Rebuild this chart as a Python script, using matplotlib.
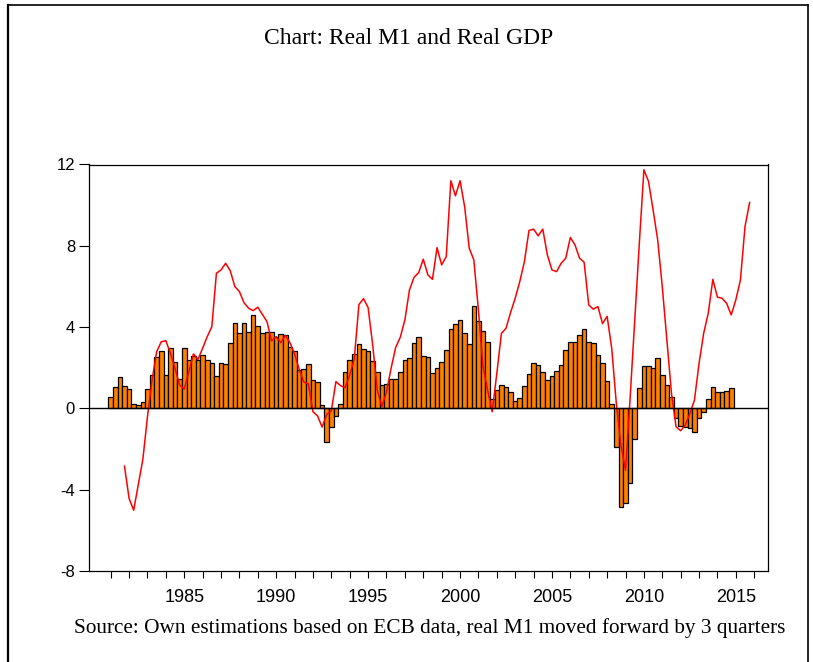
import numpy as np
import matplotlib.pyplot as plt
from matplotlib.lines import Line2D

# Real GDP, year-on-year growth in %, quarterly 1981Q1 - 2014Q4
gdp_growth = [
    0.54, 1.03, 1.53, 1.10, 0.94, 0.21, 0.15, 0.33, 0.97, 1.63,
    2.54, 2.81, 1.63, 2.96, 2.27, 1.46, 2.97, 2.36, 2.58, 2.38,
    2.64, 2.40, 2.22, 1.59, 2.22, 2.17, 3.22, 4.22, 3.71, 4.22,
    3.74, 4.61, 4.07, 3.71, 3.74, 3.78, 3.50, 3.66, 3.60, 3.00,
    2.81, 1.89, 1.94, 2.17, 1.40, 1.31, 0.18, -1.66, -0.92, -0.39,
    0.20, 1.79, 2.36, 2.68, 3.19, 2.92, 2.81, 2.35, 1.77, 1.15,
    1.21, 1.43, 1.43, 1.77, 2.38, 2.46, 3.20, 3.50, 2.58, 2.51,
    1.72, 1.99, 2.27, 2.86, 3.89, 4.14, 4.37, 3.71, 3.17, 5.06,
    4.29, 3.81, 3.25, 0.46, 0.90, 1.13, 1.07, 0.80, 0.34, 0.53,
    1.10, 1.71, 2.22, 2.12, 1.77, 1.38, 1.59, 1.82, 2.13, 2.87,
    3.25, 3.27, 3.63, 3.91, 3.27, 3.23, 2.61, 2.21, 1.37, 0.23,
    -1.90, -4.84, -4.65, -3.69, -1.51, 0.99, 2.10, 2.07, 1.97, 2.50,
    1.63, 1.13, 0.56, -0.49, -0.85, -0.90, -0.97, -1.18, -0.49, -0.16,
    0.44, 1.05, 0.79, 0.79, 0.87, 1.02,
]

# Real M1, year-on-year growth in %, shifted 3 quarters ahead: 1981Q4 - 2015Q4
m1_growth = [
    -2.84, -4.43, -5.01, -3.75, -2.50, -0.41, 1.40, 2.79, 3.28, 3.33,
    2.71, 1.97, 1.15, 0.95, 1.80, 2.68, 2.41, 2.96, 3.53, 4.02,
    6.65, 6.81, 7.14, 6.78, 6.00, 5.75, 5.20, 4.93, 4.81, 4.98,
    4.63, 4.27, 3.32, 3.53, 3.23, 3.60, 3.23, 2.68, 1.93, 1.30,
    1.20, -0.16, -0.37, -0.92, -0.29, -0.12, 1.32, 1.12, 1.02, 1.64,
    2.46, 5.11, 5.40, 4.96, 3.12, 0.90, 0.08, 0.82, 1.97, 3.00,
    3.50, 4.35, 5.83, 6.45, 6.68, 7.34, 6.57, 6.35, 7.91, 7.06,
    7.47, 11.20, 10.46, 11.20, 9.93, 7.88, 7.31, 4.84, 2.05, 0.90,
    -0.16, 1.72, 3.69, 3.94, 4.72, 5.42, 6.24, 7.22, 8.75, 8.82,
    8.49, 8.82, 7.55, 6.81, 6.73, 7.14, 7.39, 8.41, 8.05, 7.39,
    7.19, 5.09, 4.88, 5.01, 4.17, 4.53, 2.96, 0.25, -1.81, -3.04,
    0.50, 4.30, 8.10, 11.74, 11.17, 9.77, 8.29, 5.99, 3.37, 0.74,
    -0.90, -1.10, -0.82, -0.25, 0.41, 2.22, 3.69, 4.68, 6.35, 5.47,
    5.42, 5.17, 4.60, 5.34, 6.32, 8.95, 10.13,
]

gdp_start = 1981.0    # 1981Q1
m1_start = 1981.75    # 1981Q4
year_ticks = list(range(1981, 2017))
year_labels = [1985, 1990, 1995, 2000, 2005, 2010, 2015]
y_ticks = [-8, -4, 0, 4, 8, 12]

W, H = 813, 662
fig = plt.figure(figsize=(W / 100, H / 100), dpi=100)
fig.patch.set_facecolor("white")

# plot area placed in pixel terms
left, right, top, bottom = 89, 768, 164.5, 571
ax = fig.add_axes([left / W, 1 - bottom / H, (right - left) / W, (bottom - top) / H])

gdp_x = gdp_start + np.arange(len(gdp_growth)) / 4
m1_x = m1_start + np.arange(len(m1_growth)) / 4

ax.bar(gdp_x, gdp_growth, width=0.25, color="#FF8000",
       edgecolor="black", linewidth=0.9, zorder=2)
ax.plot(m1_x, m1_growth, color="#FF0000", linewidth=1.1, zorder=3)
ax.axhline(0, color="black", linewidth=1.0, zorder=4)

ax.set_xlim(1979.82, 2016.75)
ax.set_ylim(-8, 12)

ax.set_yticks(y_ticks)
ax.set_yticklabels([str(v) for v in y_ticks])
ax.set_xticks(year_ticks)
ax.set_xticklabels([str(y) if y in year_labels else "" for y in year_ticks])

ax.tick_params(axis="y", direction="out", length=7, width=0.8, pad=3,
               labelsize=12, right=False)
ax.tick_params(axis="x", direction="out", length=5, width=0.8, pad=8,
               labelsize=13, top=False)
for lab in ax.get_xticklabels() + ax.get_yticklabels():
    lab.set_fontfamily("Liberation Sans")

for side in ["left", "right", "top", "bottom"]:
    ax.spines[side].set_linewidth(0.9)
    ax.spines[side].set_color("black")

fig.text(409 / W, 1 - 38 / H, "Chart: Real M1 and Real GDP",
         ha="center", va="center", fontsize=17, family="Liberation Serif")
fig.text(430 / W, 1 - 628 / H,
         "Source: Own estimations based on ECB data, real M1 moved forward by 3 quarters",
         ha="center", va="center", fontsize=15.3, family="Liberation Serif")

# frame around the graph page
fig.add_artist(Line2D([8 / W, 8 / W], [0, 1 - 5 / H], transform=fig.transFigure,
                      color="black", linewidth=1.6))
fig.add_artist(Line2D([8 / W, 808 / W], [1 - 5 / H, 1 - 5 / H], transform=fig.transFigure,
                      color="black", linewidth=1.2))
fig.add_artist(Line2D([808 / W, 808 / W], [0, 1 - 5 / H], transform=fig.transFigure,
                      color="black", linewidth=1.2))

fig.savefig("out.png", dpi=100)
